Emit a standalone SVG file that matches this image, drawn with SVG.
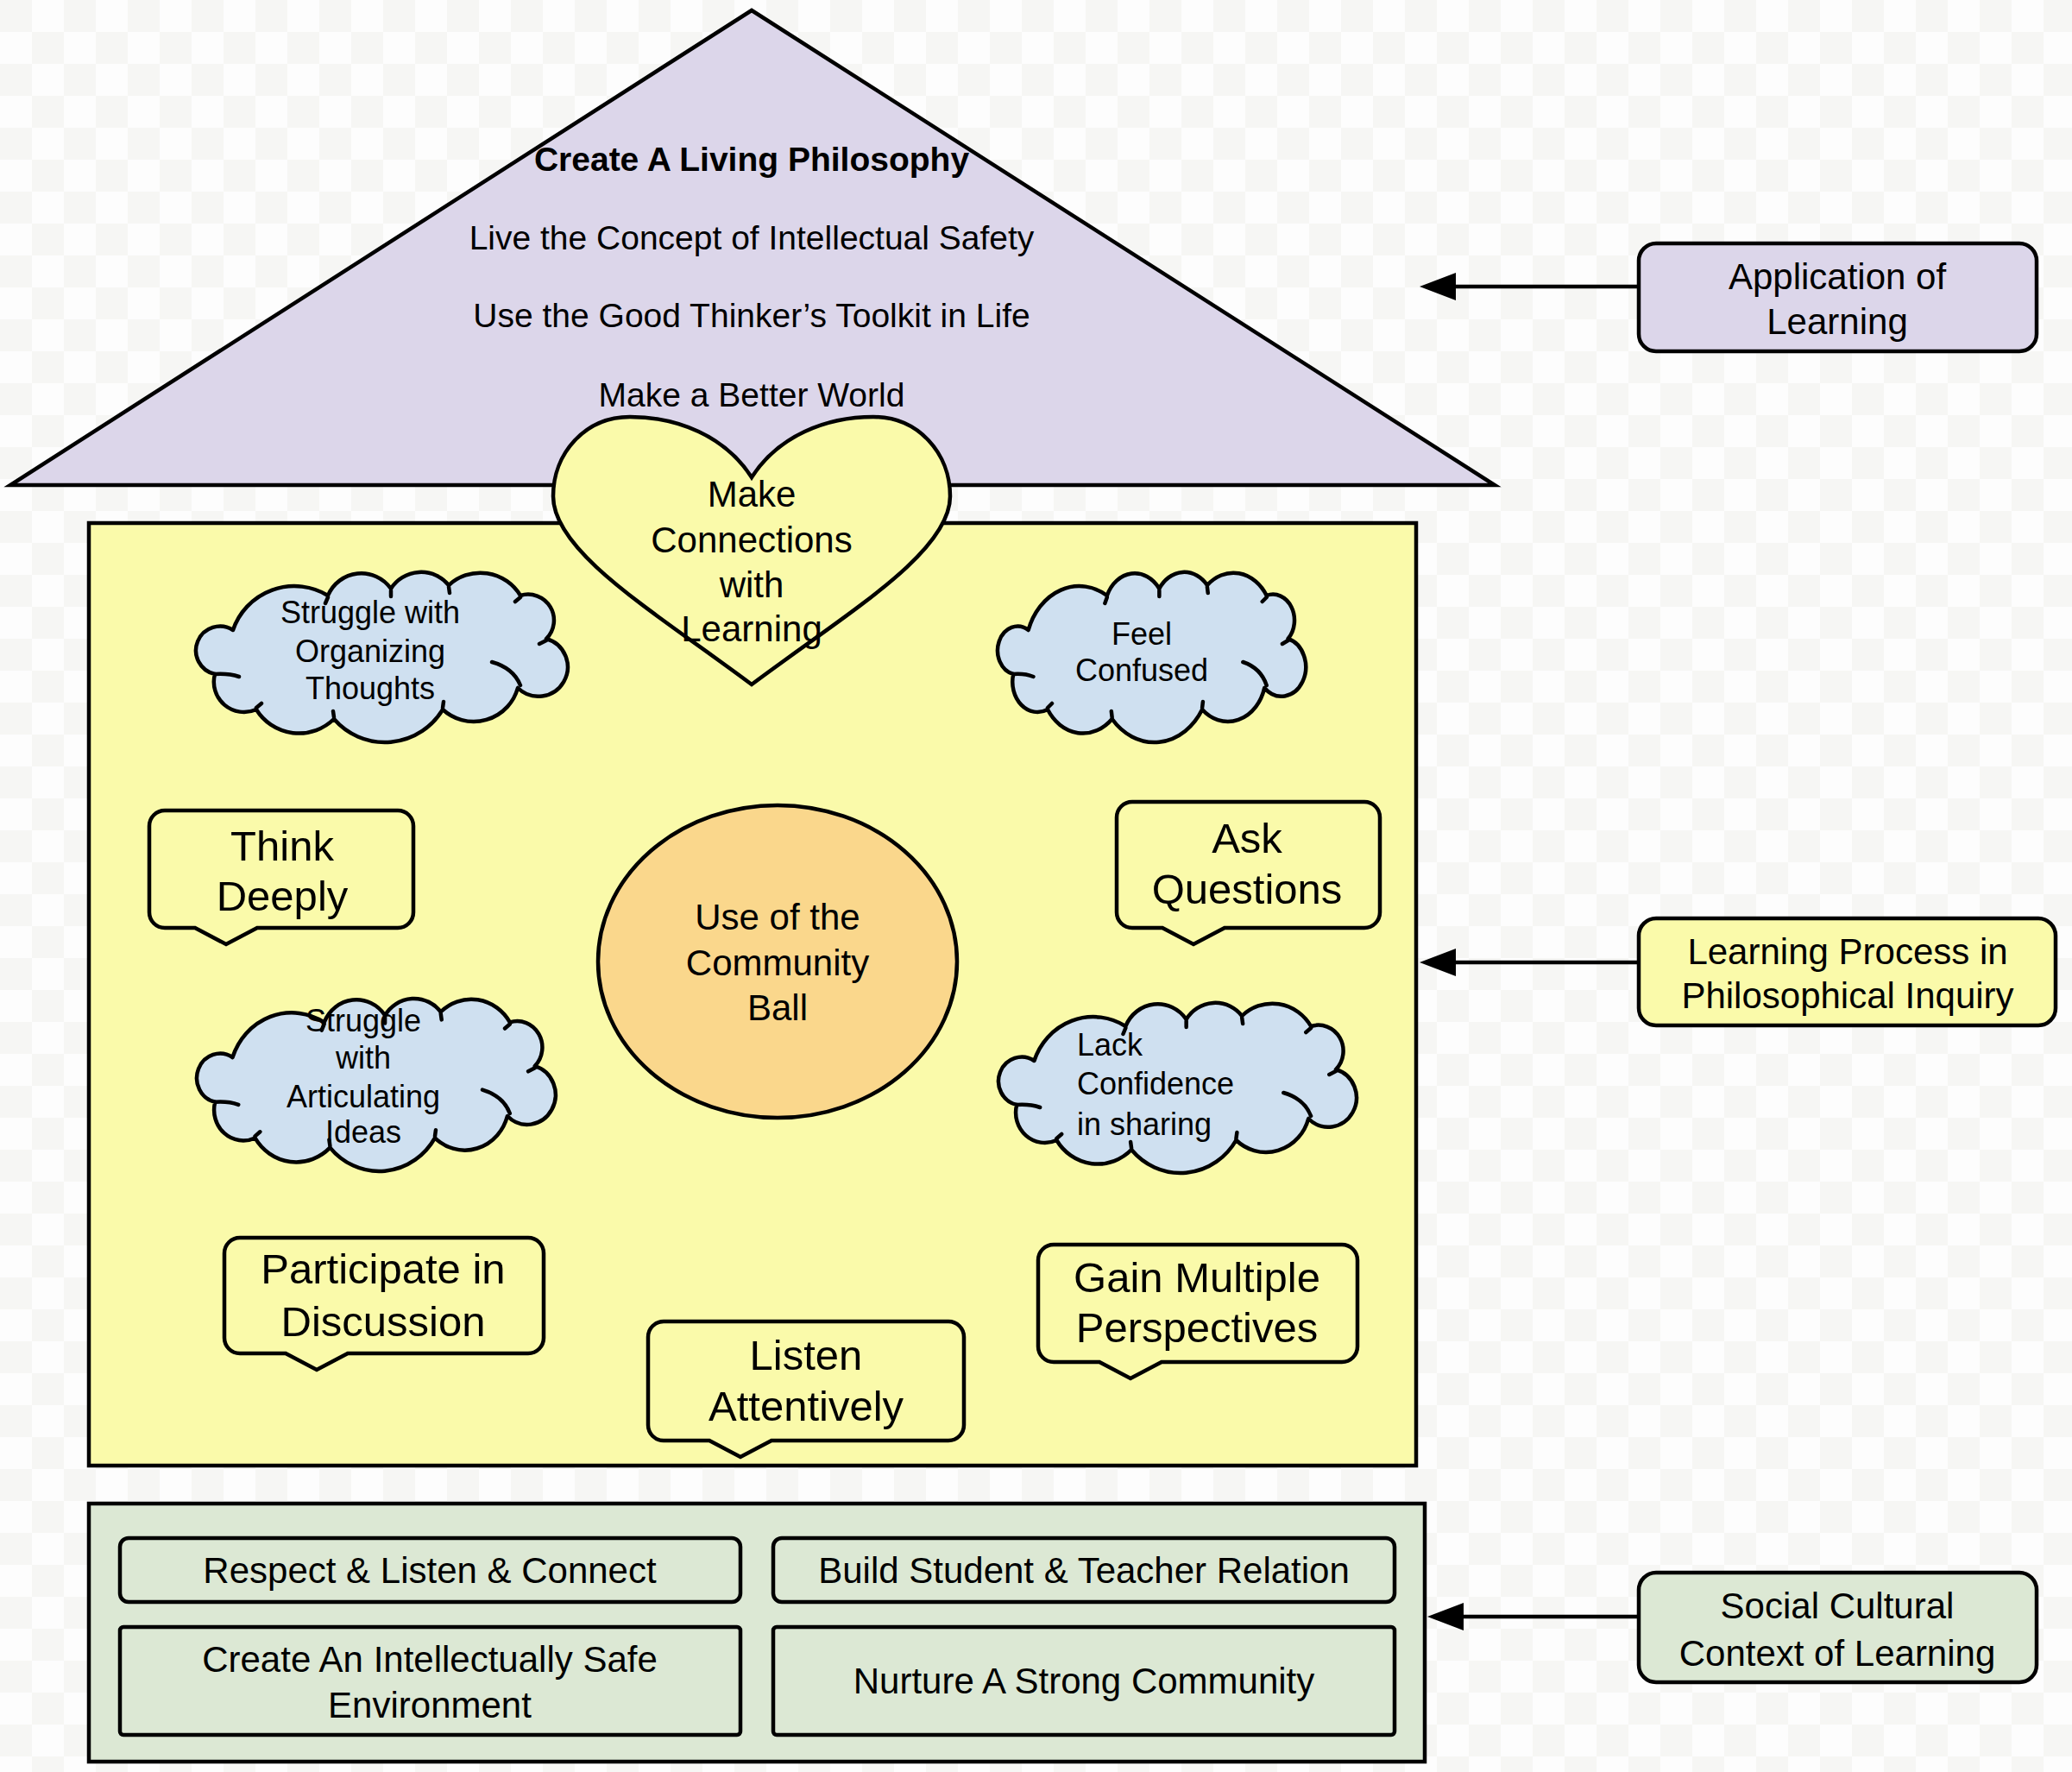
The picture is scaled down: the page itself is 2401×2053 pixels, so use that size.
<svg xmlns="http://www.w3.org/2000/svg" xmlns:xlink="http://www.w3.org/1999/xlink" width="2401" height="2053" viewBox="0 0 2401 2053">
<style>
  text { font-family: "Liberation Sans", Arial, Helvetica, sans-serif; fill: #000; text-anchor: middle; }
  .ln { fill: none; stroke: #000; stroke-width: 4.5; }
  .roof { fill: #dcd6ea; stroke: #000; stroke-width: 4.5; stroke-linejoin: miter; }
  .yel { fill: #fafaaa; stroke: #000; stroke-width: 4.5; }
  .grn { fill: #dce8d4; stroke: #000; stroke-width: 4.5; }
  .lav { fill: #dcd6ea; stroke: #000; stroke-width: 4.5; }
  .ball { fill: #fad78c; stroke: #000; stroke-width: 4.5; }
  .cloud { fill: #cfe0f0; stroke: #000; stroke-width: 4.5; stroke-linejoin: round; }
  .tick { fill: none; stroke: #000; stroke-width: 4.5; stroke-linecap: round; }
  .t40 { font-size: 39px; }
  .t42 { font-size: 42px; }
  .t36 { font-size: 36px; }
  .t49 { font-size: 49px; }
  .bold { font-weight: bold; }
  .arrowhead { fill: #000; stroke: none; }
</style>
<defs>
  <pattern id="checker" x="0" y="0" width="74" height="74" patternUnits="userSpaceOnUse">
    <rect x="0" y="0" width="74" height="74" fill="#fdfdfd"/>
    <rect x="0" y="0" width="37" height="37" fill="#f6f6f4"/>
    <rect x="37" y="37" width="37" height="37" fill="#f6f6f4"/>
  </pattern>
  <path id="cloudShape" vector-effect="non-scaling-stroke" d="M 43 69 A 75 75 0 0 1 153 29 A 42 42 0 0 1 226 21 A 41.5 41.5 0 0 1 293 17 A 54 54 0 0 1 376 29 A 30 30 0 0 1 406 79 A 34 34 0 1 1 373 136 A 53 53 0 0 1 286 161 A 78 78 0 0 1 160 172 A 58 58 0 0 1 70 161 A 35 35 0 0 1 22 120 A 28 28 0 1 1 43 69 Z"/>
  <path id="cloudTicks" vector-effect="non-scaling-stroke" d="M 22 120 Q 38 119 50 123 M 343 106 Q 368 113 376 133 M 153 31 L 150 38 M 226 23 L 226 30 M 293 19 L 294 26 M 376 31 L 370 36 M 406 81 L 398 85 M 286 159 L 287 152 M 160 170 L 159 163 M 70 159 L 76 154"/>
</defs>

<rect x="0" y="0" width="2401" height="2053" fill="url(#checker)"/>

<g id="roof">
  <polygon class="roof" points="871,12 1732,562 12,562"/>
  <text class="t40 bold" x="871" y="198">Create A Living Philosophy</text>
  <text class="t40" x="871" y="289">Live the Concept of Intellectual Safety</text>
  <text class="t40" x="871" y="379">Use the Good Thinker’s Toolkit in Life</text>
  <text class="t40" x="871" y="471">Make a Better World</text>
</g>

<g id="house-body">
  <rect class="yel" x="103" y="606" width="1538" height="1092"/>
</g>

<g id="heart">
  <path class="yel" d="M 871 553 C 840 505 785 483 730 483 C 678 483 641 525 641 575 C 641 640 760 710 871 793 C 982 710 1101 640 1101 575 C 1101 525 1064 483 1012 483 C 957 483 902 505 871 553 Z"/>
  <text class="t42" x="871" y="587">Make</text>
  <text class="t42" x="871" y="640">Connections</text>
  <text class="t42" x="871" y="692">with</text>
  <text class="t42" x="871" y="743">Learning</text>
</g>

<g id="cloud-organizing">
  <g transform="translate(227,661)">
    <use xlink:href="#cloudShape" href="#cloudShape" class="cloud"/>
    <use xlink:href="#cloudTicks" href="#cloudTicks" class="tick"/>
  </g>
  <text class="t36" x="429" y="722">Struggle with</text>
  <text class="t36" x="429" y="767">Organizing</text>
  <text class="t36" x="429" y="810">Thoughts</text>
</g>

<g id="cloud-confused">
  <g transform="translate(1156,661) scale(0.829,1)">
    <use xlink:href="#cloudShape" href="#cloudShape" class="cloud"/>
    <use xlink:href="#cloudTicks" href="#cloudTicks" class="tick"/>
  </g>
  <text class="t36" x="1323" y="747">Feel</text>
  <text class="t36" x="1323" y="789">Confused</text>
</g>

<g id="cloud-articulating">
  <g transform="translate(228,1155) scale(0.965,1.015)">
    <use xlink:href="#cloudShape" href="#cloudShape" class="cloud"/>
    <use xlink:href="#cloudTicks" href="#cloudTicks" class="tick"/>
  </g>
  <text class="t36" x="421" y="1195">Struggle</text>
  <text class="t36" x="421" y="1238">with</text>
  <text class="t36" x="421" y="1283">Articulating</text>
  <text class="t36" x="421" y="1324">Ideas</text>
</g>

<g id="cloud-confidence">
  <g transform="translate(1157,1160) scale(0.963,1)">
    <use xlink:href="#cloudShape" href="#cloudShape" class="cloud"/>
    <use xlink:href="#cloudTicks" href="#cloudTicks" class="tick"/>
  </g>
  <text class="t36" x="1248" y="1223" text-anchor="start" style="text-anchor:start">Lack</text>
  <text class="t36" x="1248" y="1268" style="text-anchor:start">Confidence</text>
  <text class="t36" x="1248" y="1315" style="text-anchor:start">in sharing</text>
</g>

<g id="callout-think">
  <path class="yel" d="M 191 939 H 461 A 18 18 0 0 1 479 957 V 1057 A 18 18 0 0 1 461 1075 H 298 L 262 1094 L 226 1075 H 191 A 18 18 0 0 1 173 1057 V 957 A 18 18 0 0 1 191 939 Z"/>
  <text class="t49" x="327" y="997">Think</text>
  <text class="t49" x="327" y="1055">Deeply</text>
</g>

<g id="callout-ask">
  <path class="yel" d="M 1312 929 H 1581 A 18 18 0 0 1 1599 947 V 1057 A 18 18 0 0 1 1581 1075 H 1419 L 1383 1094 L 1347 1075 H 1312 A 18 18 0 0 1 1294 1057 V 947 A 18 18 0 0 1 1312 929 Z"/>
  <text class="t49" x="1445" y="988">Ask</text>
  <text class="t49" x="1445" y="1047">Questions</text>
</g>

<g id="callout-participate">
  <path class="yel" d="M 278 1434 H 612 A 18 18 0 0 1 630 1452 V 1550 A 18 18 0 0 1 612 1568 H 403 L 367 1587 L 331 1568 H 278 A 18 18 0 0 1 260 1550 V 1452 A 18 18 0 0 1 278 1434 Z"/>
  <text class="t49" x="444" y="1487">Participate in</text>
  <text class="t49" x="444" y="1548">Discussion</text>
</g>

<g id="callout-gain">
  <path class="yel" d="M 1221 1442 H 1555 A 18 18 0 0 1 1573 1460 V 1560 A 18 18 0 0 1 1555 1578 H 1346 L 1310 1597 L 1274 1578 H 1221 A 18 18 0 0 1 1203 1560 V 1460 A 18 18 0 0 1 1221 1442 Z"/>
  <text class="t49" x="1387" y="1497">Gain Multiple</text>
  <text class="t49" x="1387" y="1555">Perspectives</text>
</g>

<g id="callout-listen">
  <path class="yel" d="M 769 1531 H 1099 A 18 18 0 0 1 1117 1549 V 1651 A 18 18 0 0 1 1099 1669 H 894 L 858 1688 L 822 1669 H 769 A 18 18 0 0 1 751 1651 V 1549 A 18 18 0 0 1 769 1531 Z"/>
  <text class="t49" x="934" y="1587">Listen</text>
  <text class="t49" x="934" y="1646">Attentively</text>
</g>

<g id="community-ball">
  <ellipse class="ball" cx="901" cy="1114" rx="208" ry="181"/>
  <text class="t42" x="901" y="1077">Use of the</text>
  <text class="t42" x="901" y="1130">Community</text>
  <text class="t42" x="901" y="1182">Ball</text>
</g>

<g id="foundation">
  <rect class="grn" x="103" y="1742" width="1548" height="299"/>
</g>

<g id="box-respect">
  <rect class="grn" x="139" y="1782" width="719" height="74" rx="10"/>
  <text class="t42" x="498" y="1834">Respect &amp; Listen &amp; Connect</text>
</g>
<g id="box-build">
  <rect class="grn" x="896" y="1782" width="720" height="74" rx="10"/>
  <text class="t42" x="1256" y="1834">Build Student &amp; Teacher Relation</text>
</g>
<g id="box-create">
  <rect class="grn" x="139" y="1885" width="719" height="125" rx="4"/>
  <text class="t42" x="498" y="1937">Create An Intellectually Safe</text>
  <text class="t42" x="498" y="1990">Environment</text>
</g>
<g id="box-nurture">
  <rect class="grn" x="896" y="1885" width="720" height="125" rx="4"/>
  <text class="t42" x="1256" y="1962">Nurture A Strong Community</text>
</g>

<g id="label-application">
  <rect class="lav" x="1899" y="282" width="461" height="125" rx="20"/>
  <text class="t42" x="2129" y="335">Application of</text>
  <text class="t42" x="2129" y="387">Learning</text>
</g>
<g id="label-process">
  <rect class="yel" x="1899" y="1064" width="483" height="124" rx="20"/>
  <text class="t42" x="2141" y="1117">Learning Process in</text>
  <text class="t42" x="2141" y="1168">Philosophical Inquiry</text>
</g>
<g id="label-social">
  <rect class="grn" x="1899" y="1822" width="461" height="127" rx="20"/>
  <text class="t42" x="2129" y="1875">Social Cultural</text>
  <text class="t42" x="2129" y="1930">Context of Learning</text>
</g>

<g id="connectors">
  <line class="ln" x1="1899" y1="332" x2="1680" y2="332"/>
  <polygon class="arrowhead" points="1645,332 1687,316 1687,348"/>
  <line class="ln" x1="1899" y1="1115" x2="1680" y2="1115"/>
  <polygon class="arrowhead" points="1645,1115 1687,1099 1687,1131"/>
  <line class="ln" x1="1899" y1="1873" x2="1690" y2="1873"/>
  <polygon class="arrowhead" points="1654,1873 1696,1857 1696,1889"/>
</g>
</svg>
